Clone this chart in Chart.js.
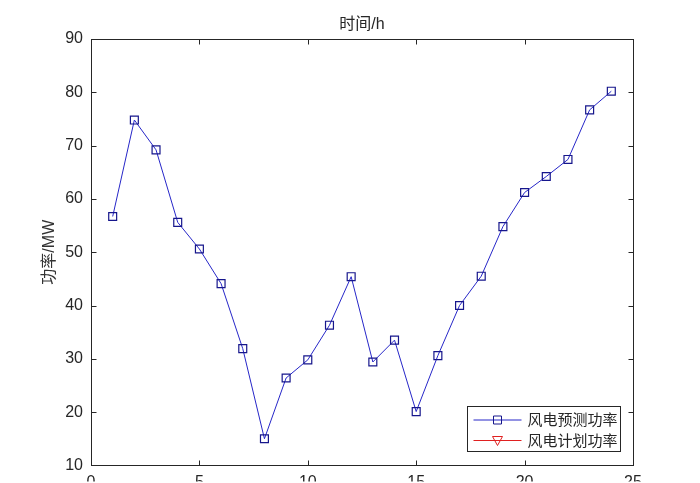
<!DOCTYPE html>
<html>
<head>
<meta charset="utf-8">
<script src="https://cdn.jsdelivr.net/npm/chart.js@4.4.1/dist/chart.umd.min.js"></script>
<style>
  html, body { margin: 0; padding: 0; background: #ffffff; }
  canvas { display: block; }
</style>
</head>
<body>
<canvas id="c" width="700" height="483"></canvas>
<script>
// ---- data ----
const hours = [1,2,3,4,5,6,7,8,9,10,11,12,13,14,15,16,17,18,19,20,21,22,23,24];
const forecastPower = [56.7,74.8,69.2,55.6,50.6,44.1,31.9,15.0,26.4,29.8,36.3,45.4,29.4,33.5,20.1,30.6,40.0,45.5,54.8,61.2,64.2,67.4,76.7,80.2];
const plannedPower = [];
const xTicks = [0,5,10,15,20,25];
const yTicks = [10,20,30,40,50,60,70,80,90];
const seriesLabels = ['风电预测功率','风电计划功率'];
const titleText = '时间/h';
const yTitleText = '功率/MW';

const FONT = "'Liberation Sans', 'Noto Sans CJK SC', Arial, sans-serif";
const AXIS_COLOR = '#262626';

const matlabBox = {
  id: 'matlabBox',
  beforeDatasetsDraw(chart) {
    const {ctx, chartArea: a, scales} = chart;
    ctx.save();
    ctx.strokeStyle = AXIS_COLOR;
    ctx.lineWidth = 1;
    const L = Math.round(a.left) + 0.5, R = Math.round(a.right) + 0.5;
    const T = Math.round(a.top) + 0.5, B = Math.round(a.bottom) + 0.5;
    ctx.strokeRect(L, T, R - L, B - T);
    const tl = 5;
    ctx.beginPath();
    xTicks.forEach(v => {
      if (v === xTicks[0] || v === xTicks[xTicks.length - 1]) return;
      const px = Math.round(scales.x.getPixelForValue(v)) + 0.5;
      ctx.moveTo(px, B); ctx.lineTo(px, B - tl);
      ctx.moveTo(px, T); ctx.lineTo(px, T + tl);
    });
    yTicks.forEach(v => {
      if (v === yTicks[0] || v === yTicks[yTicks.length - 1]) return;
      const py = Math.round(scales.y.getPixelForValue(v)) + 0.5;
      ctx.moveTo(L, py); ctx.lineTo(L + tl, py);
      ctx.moveTo(R, py); ctx.lineTo(R - tl, py);
    });
    ctx.stroke();
    ctx.restore();
  }
};

const boxLegend = {
  id: 'boxLegend',
  afterDraw(chart) {
    const {ctx, chartArea: a} = chart;
    const w = 153, h = 45;
    const x0 = Math.round(a.right - 13 - w) + 0.5;
    const y0 = Math.round(a.bottom - 14 - h) + 0.5;
    ctx.save();
    ctx.fillStyle = '#ffffff';
    ctx.fillRect(x0, y0, w, h);
    ctx.strokeStyle = AXIS_COLOR;
    ctx.lineWidth = 1;
    ctx.strokeRect(x0, y0, w, h);
    chart.data.datasets.forEach((ds, i) => {
      const cy = y0 + 13.5 + i * 20.5;
      const cx = x0 + 30;
      ctx.strokeStyle = ds.borderColor;
      ctx.lineWidth = 1;
      ctx.beginPath();
      ctx.moveTo(x0 + 6, cy); ctx.lineTo(x0 + 54, cy);
      ctx.stroke();
      ctx.strokeStyle = ds.pointBorderColor;
      ctx.beginPath();
      if (ds.pointStyle === 'rect') {
        ctx.rect(cx - 4, cy - 4, 8, 8);
      } else {
        ctx.moveTo(cx - 5, cy - 4);
        ctx.lineTo(cx + 5, cy - 4);
        ctx.lineTo(cx, cy + 5);
        ctx.closePath();
      }
      ctx.stroke();
      ctx.fillStyle = AXIS_COLOR;
      ctx.font = '15px ' + FONT;
      ctx.textBaseline = 'middle';
      ctx.textAlign = 'left';
      ctx.fillText(ds.label, x0 + 60, cy + 1);
    });
    ctx.restore();
  }
};

new Chart(document.getElementById('c'), {
  type: 'line',
  data: {
    datasets: [
      {
        label: seriesLabels[0],
        data: hours.map((h, i) => ({x: h, y: forecastPower[i]})),
        borderColor: '#2626c8',
        borderWidth: 1,
        pointStyle: 'rect',
        pointRadius: 5.6,
        pointBorderWidth: 1.2,
        pointBorderColor: '#16168c',
        pointBackgroundColor: 'rgba(0,0,0,0)',
        tension: 0,
        fill: false
      },
      {
        label: seriesLabels[1],
        data: plannedPower.map((v, i) => ({x: hours[i], y: v})),
        borderColor: '#e02020',
        borderWidth: 1,
        pointStyle: 'triangle',
        pointRotation: 180,
        pointRadius: 5,
        pointBorderColor: '#e02020',
        pointBackgroundColor: 'rgba(0,0,0,0)',
        fill: false
      }
    ]
  },
  options: {
    responsive: false,
    animation: false,
    devicePixelRatio: 1,
    layout: { padding: { left: 0, right: 67, top: 0, bottom: 0 } },
    plugins: {
      legend: { display: false },
      tooltip: { enabled: false },
      title: {
        display: true,
        text: titleText,
        fullSize: false,
        color: AXIS_COLOR,
        font: { family: FONT, size: 16, weight: 'normal', lineHeight: 1.2 },
        padding: { top: 15, bottom: 4.8 }
      }
    },
    scales: {
      x: {
        type: 'linear',
        min: 0, max: 25,
        afterBuildTicks(scale) { scale.ticks = xTicks.map(v => ({value: v})); },
        afterFit(scale) { scale.height = 16; },
        grid: { display: false, drawTicks: false },
        border: { display: false },
        ticks: { color: AXIS_COLOR, padding: 8, maxRotation: 0, font: { family: FONT, size: 16 } }
      },
      y: {
        type: 'linear',
        min: 10, max: 90,
        afterBuildTicks(scale) { scale.ticks = yTicks.map(v => ({value: v})); },
        afterFit(scale) { scale.width = 91; },
        grid: { display: false, drawTicks: false },
        border: { display: false },
        ticks: { color: AXIS_COLOR, padding: 8, font: { family: FONT, size: 16 } },
        title: {
          display: true,
          text: yTitleText,
          color: '#333333',
          font: { family: FONT, size: 16, lineHeight: 1.2 },
          padding: { top: 40, bottom: 0 }
        }
      }
    }
  },
  plugins: [matlabBox, boxLegend]
});
</script>
</body>
</html>
